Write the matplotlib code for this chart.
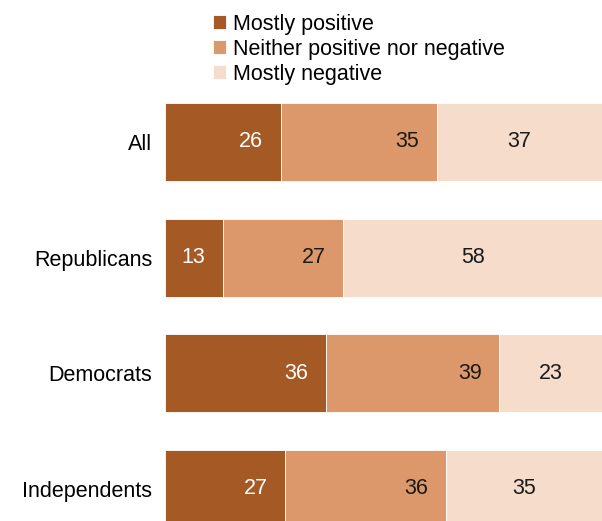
import matplotlib.pyplot as plt
import numpy as np

# ── Data ──────────────────────────────────────────────────────────────────
GROUPS   = ["All", "Republicans", "Democrats", "Independents"]
POSITIVE = [26, 13, 36, 27]
NEITHER  = [35, 27, 39, 36]
NEGATIVE = [37, 58, 23, 35]
SERIES   = ["Mostly positive", "Neither positive nor negative", "Mostly negative"]
COLORS   = ["#a55a26", "#dc986a", "#f5dccb"]

plt.rcParams["font.family"] = ["Liberation Sans", "DejaVu Sans"]
FS = 15.5

fig = plt.figure(figsize=(6.02, 5.21), dpi=100)
ax = fig.add_axes([165 / 602, 0, 1 - 165 / 602, (521 - 95) / 521])

y = np.arange(len(GROUPS))
left = np.zeros(len(GROUPS))
bar_h = 0.675
handles = []
for k, (vals, col) in enumerate(zip([POSITIVE, NEITHER, NEGATIVE], COLORS)):
    vals = np.array(vals, dtype=float)
    h = ax.barh(y, vals, left=left, height=bar_h, color=col,
                edgecolor="white", linewidth=0.6, label=SERIES[k])
    handles.append(h)
    for yi, l, v in zip(y, left, vals):
        if k < 2:
            ax.text(l + v - 4, yi, f"{v:.0f}", ha="right", va="center",
                    fontsize=FS, color="white" if k == 0 else "#1a1a1a")
        else:
            ax.text(l + v / 2, yi, f"{v:.0f}", ha="center", va="center",
                    fontsize=FS, color="#1a1a1a")
    left += vals

ax.set_xlim(0, 98)
ax.set_ylim(3.277, -0.406)
ax.set_yticks(y)
ax.set_yticklabels(GROUPS, fontsize=FS)
ax.tick_params(axis="y", length=0, pad=9)
ax.set_xticks([])
for s in ax.spines.values():
    s.set_visible(False)

fig.legend(handles=handles, labels=SERIES, loc="upper left",
           bbox_to_anchor=(199 / 602, 1.0), frameon=False, fontsize=FS,
           handlelength=0.62, handleheight=0.62, handletextpad=0.3,
           labelspacing=0.18, borderaxespad=0.25)

fig.savefig("out.png", dpi=100)
